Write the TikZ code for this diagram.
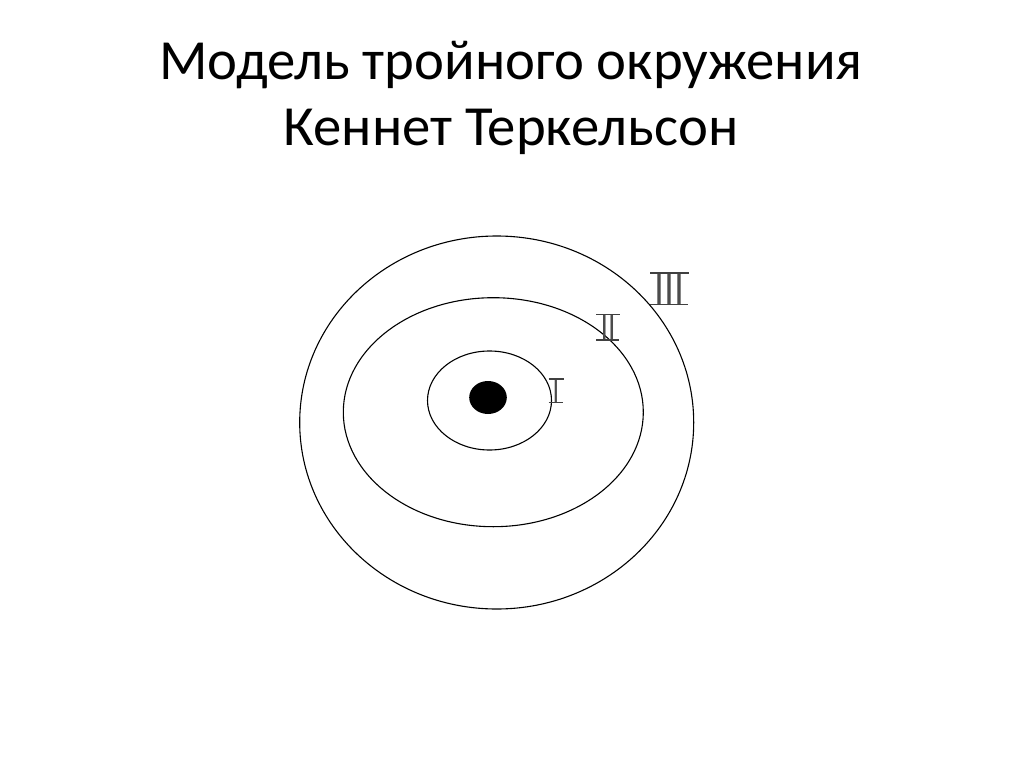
\documentclass[tikz,border=0pt]{standalone}
\usepackage{fontspec}
\usepackage{graphicx}
\setmainfont{Carlito}
\newfontfamily\numfont{Liberation Sans}
\usetikzlibrary{positioning}

\tikzset{
  title/.style = {inner sep=0pt, anchor=base,
    font=\fontsize{56.7}{66}\selectfont},
  ring/.style = {draw=black, line width=1.1pt},
  numeral/.style = {inner sep=0pt, anchor=south, text=black!70},
  numbar/.style = {draw=black!75, line width=1.2pt},
}

\begin{document}
\begin{tikzpicture}[x=1pt,y=-1pt]
  \useasboundingbox (0,0) rectangle (1024,767);
  % title
  \node[title] (title1) at (511,80) {Модель тройного окружения};
  \node[title] (title2) at (511,146) {Кеннет Теркельсон};
  % rings
  \path[ring] (496.7,422.5) ellipse [x radius=197pt, y radius=186.5pt];
  \path[ring] (493.3,412.2) ellipse [x radius=150pt, y radius=114.5pt];
  \path[ring] (489.5,400.5) ellipse [x radius=62pt, y radius=49.5pt];
  \fill (488,397.5) ellipse [x radius=18.8pt, y radius=16.5pt];
  % numerals
  \node[numeral, font=\numfont\fontsize{34}{34}\selectfont] (n1) at (556,402.7) {\scalebox{0.7}[1]{I}};
  \node[numeral, font=\numfont\fontsize{36}{36}\selectfont] (n2) at (608,340) {\scalebox{0.75}[1]{II}};
  \node[numeral, font=\numfont\fontsize{45}{45}\selectfont] (n3) at (669.5,304.3) {\scalebox{0.8}[1]{III}};
  \foreach \n in {n1,n2,n3} {
    \draw[numbar] ([xshift=-4pt]\n.north west) -- ([xshift=4pt]\n.north east);
    \draw[numbar] ([xshift=-4pt]\n.south west) -- ([xshift=3pt]\n.south east);
  }
\end{tikzpicture}
\end{document}
